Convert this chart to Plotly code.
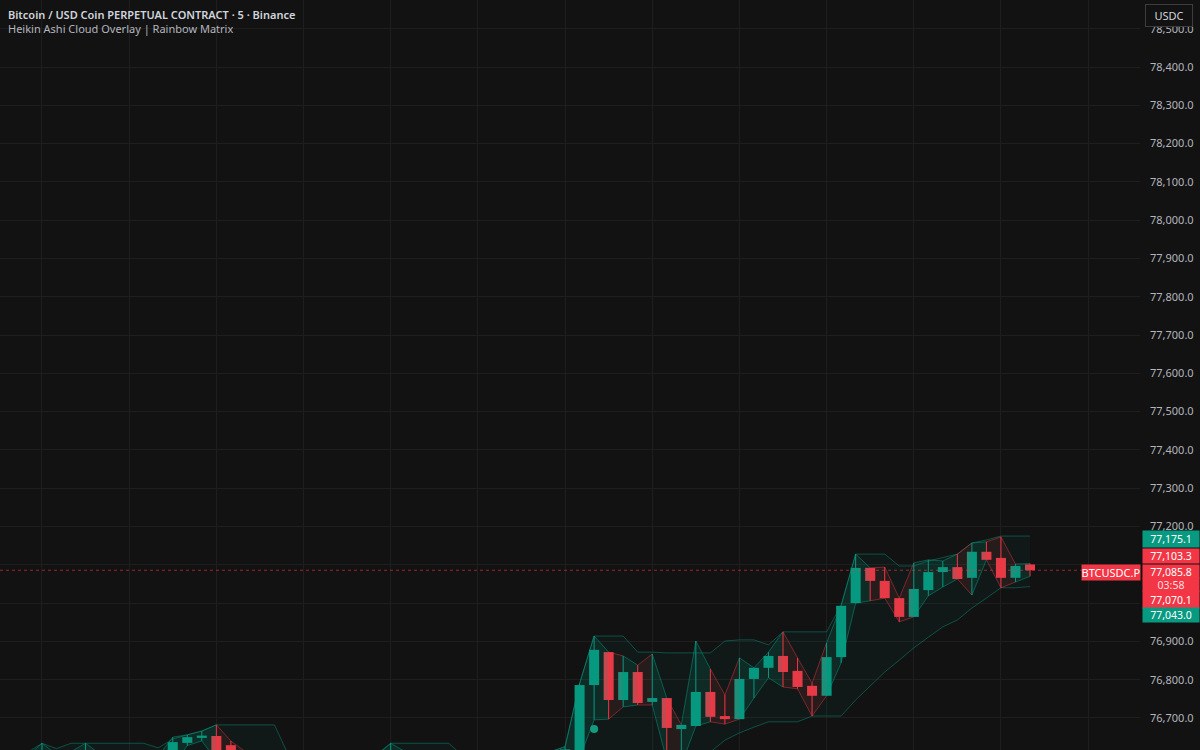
import plotly.graph_objects as go

# ---------------- data ----------------
# 5-minute bars, indexed relative to the bar that sits on the last 30-min gridline
bar_idx = list(range(-68, 3))

opens = [76560, 76568, 76579, 76592, 76581, 76590, 76601, 76590, 76581, 76570,
         76562, 76578, 76635, 76648, 76653, 76629, 76604, 76585, 76568, 76554,
         76543, 76551, 76560, 76559, 76570, 76580, 76588, 76599, 76592, 76597,
         76601, 76590, 76576, 76564, 76552, 76540, 76547, 76562, 76581, 76600,
         76786, 76872, 76747, 76820, 76742, 76752, 76671, 76679, 76768, 76705,
         76697, 76802, 76831, 76862, 76823, 76784, 76758, 76859, 77000, 77092,
         77058, 77013, 76964, 77034, 77081, 77094, 77066, 77134, 77118, 77066,
         77101]
highs = [76590, 76600, 76634, 76605, 76612, 76634, 76606, 76598, 76590, 76585,
         76600, 76650, 76656, 76666, 76682, 76640, 76612, 76596, 76580, 76566,
         76570, 76575, 76580, 76590, 76598, 76604, 76634, 76612, 76610, 76614,
         76612, 76598, 76588, 76572, 76560, 76565, 76585, 76612, 76625, 76790,
         76914, 76872, 76862, 76838, 76867, 76752, 76682, 76901, 76828, 76760,
         76857, 76831, 76872, 76925, 76857, 76791, 76896, 76993, 77128, 77092,
         77094, 77013, 77105, 77113, 77110, 77128, 77157, 77160, 77173, 77102,
         77103.3]
lows = [76540, 76555, 76570, 76560, 76575, 76585, 76570, 76560, 76548, 76545,
        76552, 76575, 76628, 76640, 76590, 76570, 76555, 76545, 76530, 76520,
        76525, 76540, 76548, 76550, 76562, 76570, 76580, 76575, 76580, 76585,
        76570, 76555, 76545, 76530, 76520, 76515, 76540, 76555, 76575, 76595,
        76695, 76697, 76729, 76734, 76734, 76590, 76577, 76679, 76690, 76684,
        76697, 76752, 76805, 76781, 76776, 76705, 76758, 76844, 77000, 77006,
        77013, 76951, 76964, 77019, 77042, 77063, 77021, 77113, 77040, 77055,
        77070.1]
closes = [76575, 76590, 76605, 76570, 76600, 76612, 76580, 76572, 76560, 76555,
          76595, 76637, 76650, 76654, 76605, 76580, 76566, 76552, 76540, 76532,
          76560, 76568, 76558, 76582, 76590, 76596, 76610, 76585, 76602, 76606,
          76578, 76562, 76552, 76540, 76528, 76555, 76578, 76600, 76618, 76786,
          76878, 76747, 76820, 76739, 76752, 76674, 76682, 76768, 76703, 76697,
          76802, 76831, 76862, 76820, 76781, 76758, 76859, 76993, 77092, 77058,
          77013, 76964, 77037, 77081, 77094, 77063, 77134, 77113, 77066, 77097,
          77085.8]

band_upper = [76605, 76610, 76634, 76620, 76634, 76634, 76634, 76634, 76634, 76634,
              76622, 76645, 76656, 76666, 76682, 76682, 76682, 76682, 76682, 76600,
              76600, 76600, 76600, 76600, 76600, 76600, 76634, 76634, 76634, 76634,
              76634, 76600, 76600, 76600, 76600, 76600, 76600, 76612, 76625, 76790,
              76914, 76914, 76914, 76872, 76872, 76870, 76870, 76870, 76870, 76901,
              76904, 76904, 76891, 76925, 76925, 76925, 76925, 76995, 77128, 77128,
              77128, 77097, 77097, 77110, 77120, 77128, 77157, 77165, 77175.1, 77175.1,
              77175.1]
band_lower = [76470, 76470, 76475, 76475, 76480, 76480, 76480, 76480, 76475, 76470,
              76470, 76470, 76480, 76490, 76500, 76500, 76500, 76495, 76485, 76475,
              76470, 76470, 76470, 76475, 76480, 76485, 76490, 76490, 76490, 76490,
              76490, 76485, 76480, 76470, 76460, 76455, 76455, 76460, 76470, 76490,
              76510, 76530, 76545, 76555, 76565, 76570, 76575, 76590, 76611, 76642,
              76661, 76676, 76690, 76690, 76690, 76705, 76705, 76705, 76747, 76784,
              76820, 76851, 76883, 76911, 76938, 76956, 76987, 77013, 77040, 77040,
              77043.0]

signal_bars = [-28]
signal_prices = [76671]

# price-scale ticks (78,500 ... 76,700); labels hidden where price tags cover them
price_ticks = [78500, 78400, 78300, 78200, 78100, 78000, 77900, 77800, 77700,
               77600, 77500, 77400, 77300, 77200, 77100, 77000, 76900, 76800, 76700]
covered_ticks = [77100, 77000]

last_price = 77085.8
countdown = "03:58"
symbol = "BTCUSDC.P"
title_text = "Bitcoin / USD Coin PERPETUAL CONTRACT · 5 · Binance"
subtitle_text = "Heikin Ashi Cloud Overlay | Rainbow Matrix"

# ---------------- style ----------------
GREEN = "#089981"
RED = "#f23645"
BG = "#121212"
GRID = "#1e1e1e"
FONT = "Noto Sans"

fig = go.Figure()

# outer band
fig.add_trace(go.Scatter(x=bar_idx, y=band_lower, mode="lines",
                         line=dict(color="rgba(8,153,129,0.45)", width=1),
                         hoverinfo="skip"))
fig.add_trace(go.Scatter(x=bar_idx, y=band_upper, mode="lines",
                         line=dict(color="rgba(8,153,129,0.45)", width=1),
                         fill="tonexty", fillcolor="rgba(8,153,129,0.06)",
                         hoverinfo="skip"))

# inner HA cloud (high/low envelope coloured by bar direction)
up = [c >= o for o, c in zip(opens, closes)]
poly = {True: ([], []), False: ([], [])}
edge = {True: ([], []), False: ([], [])}
for i in range(len(bar_idx) - 1):
    d = up[i]
    a, b = bar_idx[i], bar_idx[i + 1]
    px, py = poly[d]
    px += [a, b, b, a, a, None]
    py += [highs[i], highs[i + 1], lows[i + 1], lows[i], highs[i], None]
    ex, ey = edge[d]
    ex += [a, b, None, a, b, None]
    ey += [highs[i], highs[i + 1], None, lows[i], lows[i + 1], None]

for d, fc, lc in [(True, "rgba(8,153,129,0.14)", "rgba(8,153,129,0.5)"),
                  (False, "rgba(242,54,69,0.10)", "rgba(242,54,69,0.45)")]:
    fig.add_trace(go.Scatter(x=poly[d][0], y=poly[d][1], mode="none",
                             fill="toself", fillcolor=fc, hoverinfo="skip"))
    fig.add_trace(go.Scatter(x=edge[d][0], y=edge[d][1], mode="lines",
                             line=dict(color=lc, width=1), hoverinfo="skip",
                             connectgaps=False))

# current price dotted line (under the candles)
fig.add_trace(go.Scatter(x=[-68.89, 9.57], y=[last_price, last_price], mode="lines",
                         line=dict(color="rgba(242,54,69,0.6)", width=1, dash="dot"),
                         hoverinfo="skip"))

# candles
for d, col in [(True, GREEN), (False, RED)]:
    xs = [x for x, u in zip(bar_idx, up) if u == d]
    base = [min(o, c) for o, c, u in zip(opens, closes, up) if u == d]
    hgt = [max(abs(c - o), 1.5) for o, c, u in zip(opens, closes, up) if u == d]
    wx, wy = [], []
    for x, h, l, u in zip(bar_idx, highs, lows, up):
        if u == d:
            wx += [x, x, None]
            wy += [l, h, None]
    fig.add_trace(go.Scatter(x=wx, y=wy, mode="lines",
                             line=dict(color=col, width=1), hoverinfo="skip"))
    fig.add_trace(go.Bar(x=xs, y=hgt, base=base, width=0.69,
                         marker=dict(color=col, line=dict(width=0))))

fig.add_trace(go.Scatter(x=signal_bars, y=signal_prices, mode="markers",
                         marker=dict(color="rgba(20,170,140,0.9)", size=8)))

# ---------------- layout ----------------
tick_text = ["" if v in covered_ticks else f"{v:,.1f}" for v in price_ticks]

fig.update_layout(
    width=1200, height=750,
    margin=dict(l=0, r=60, t=0, b=0),
    paper_bgcolor=BG, plot_bgcolor=BG,
    showlegend=False, barmode="overlay",
    font=dict(family=FONT, color="#b2b5be"),
    xaxis=dict(range=[-68.89, 9.57], showticklabels=False, showgrid=True,
               gridcolor=GRID, gridwidth=1, dtick=6, tick0=0,
               zeroline=False, showline=False, fixedrange=True),
    yaxis=dict(side="right", range=[76616.4, 78574.96],
               tickmode="array", tickvals=price_ticks, ticktext=tick_text,
               showgrid=True, gridcolor=GRID, gridwidth=1,
               zeroline=False, showline=False, ticks="",
               ticklabelstandoff=9,
               tickfont=dict(family=FONT, size=11, color="#b2b5be")),
)

ann = []
ann.append(dict(text=title_text, xref="paper", yref="paper", x=6 / 1140,
                y=1 - 14 / 750, xanchor="left", yanchor="middle", showarrow=False,
                font=dict(family=FONT, size=11, color="#d1d4dc", weight=600)))
ann.append(dict(text=subtitle_text, xref="paper", yref="paper", x=6 / 1140,
                y=1 - 29 / 750, xanchor="left", yanchor="middle", showarrow=False,
                font=dict(family=FONT, size=11, color="#b2b5be")))
ann.append(dict(text="USDC", xref="paper", yref="paper", x=1169 / 1140,
                y=1 - 15 / 750, xanchor="center", yanchor="middle", showarrow=False,
                width=44, height=19, borderpad=1, bordercolor="#3d3d3d",
                borderwidth=1, bgcolor=BG,
                font=dict(family=FONT, size=11, color="#d1d4dc")))

# price-scale tags: (value, text, colour, yshift, height)
scale_labels = [
    (77175.1, "77,175.1", GREEN, -3, 16),
    (77103.3, "77,103.3", RED, 8, 14),
    (last_price, "77,085.8", RED, -1, 13),
    (last_price, countdown, RED, -14, 13),
    (77070.1, "77,070.1", RED, -23, 17),
    (77043.0, "77,043.0", GREEN, -28, 14),
]
for v, t, c, ys, h in scale_labels:
    fc = "rgba(255,255,255,0.85)" if t == countdown else "#ffffff"
    ann.append(dict(text=t, xref="paper", yref="y", x=1142 / 1140, y=v,
                    yshift=ys, xanchor="left", yanchor="middle", showarrow=False,
                    width=56, height=h, borderpad=0, bgcolor=c,
                    font=dict(family=FONT, size=10.5, color=fc)))
ann.append(dict(text=symbol, xref="paper", yref="y", x=1141 / 1140, y=last_price,
                yshift=-2, xanchor="right", yanchor="middle", showarrow=False,
                width=58, height=15, borderpad=0, bgcolor=RED,
                font=dict(family=FONT, size=11, color="#ffffff")))
fig.update_layout(annotations=ann)

fig.write_html("out.html")
